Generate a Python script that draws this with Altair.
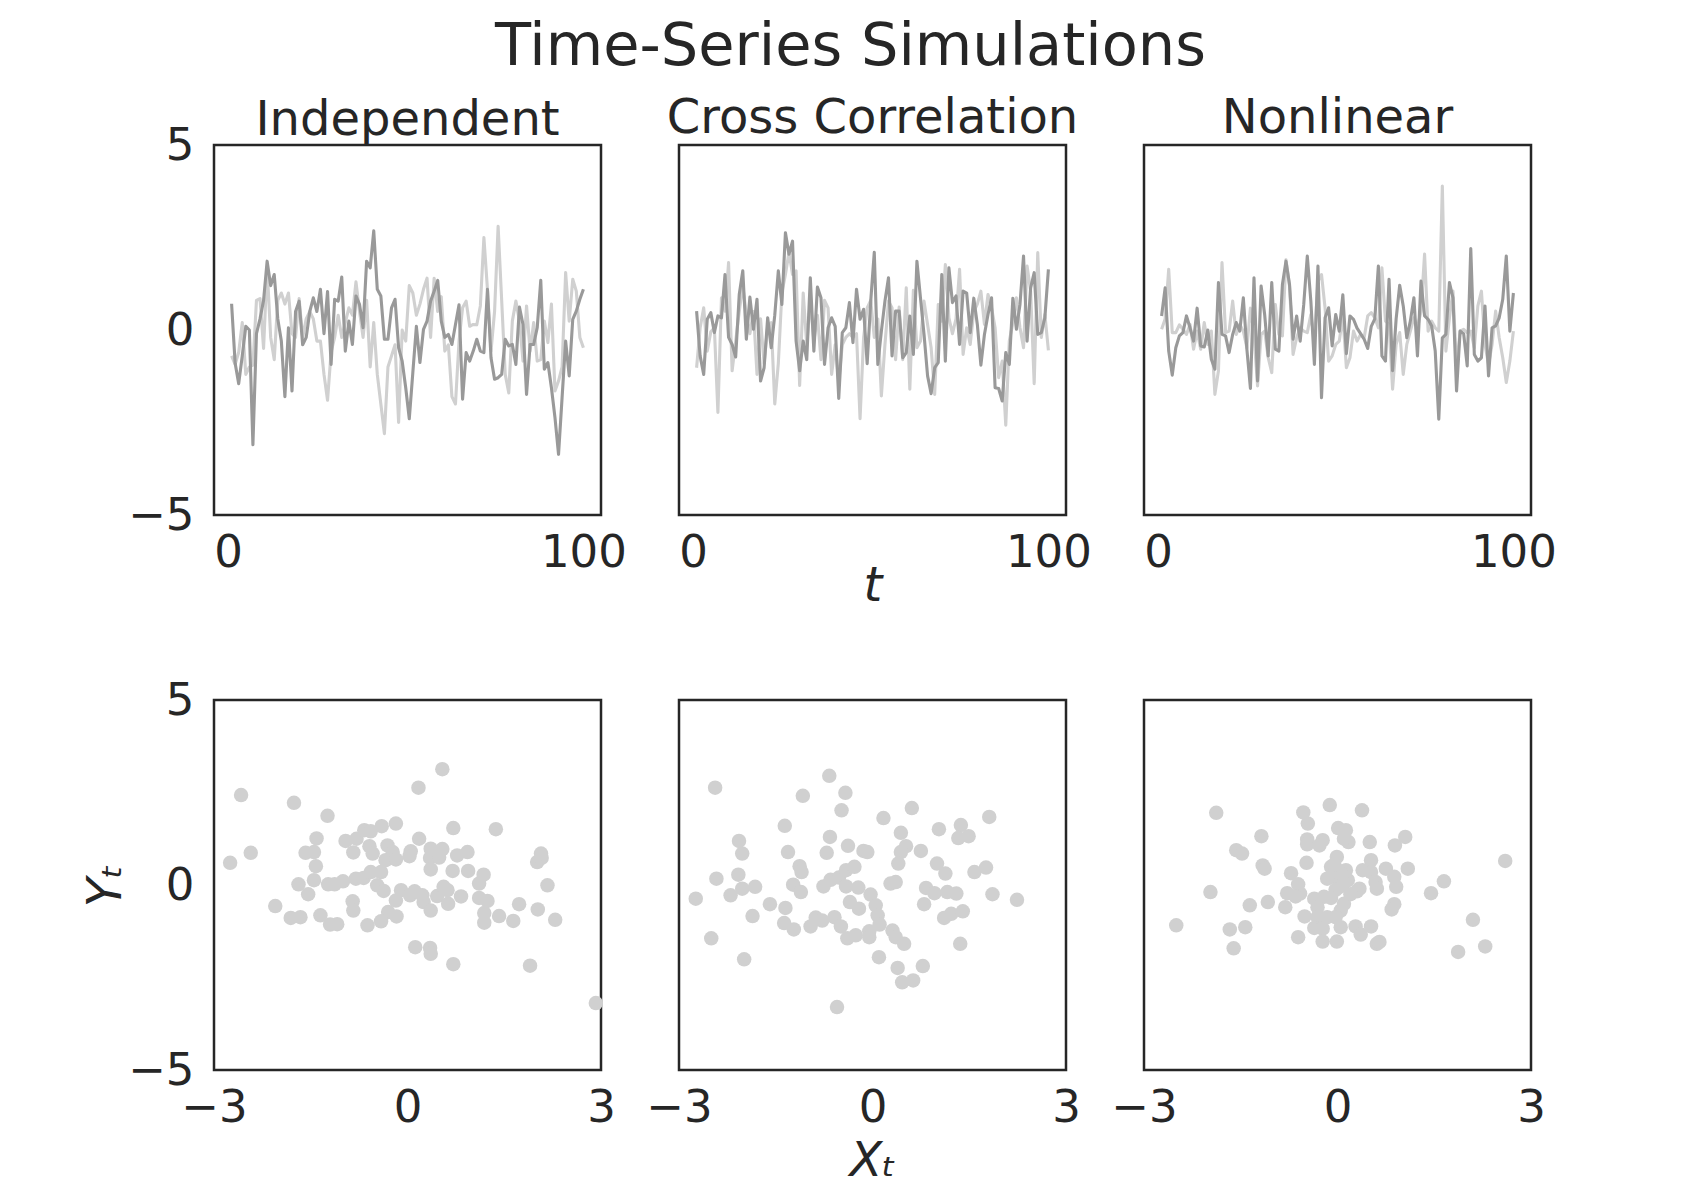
import altair as alt
import pandas as pd

T = list(range(1, 101))

IND_X = [0.71, -0.9, -1.45, -0.7, 0.1, 0.0, -3.1, -0.1, 0.3, 0.8,
         1.86, 1.2, 1.5, 0.3, -0.3, -1.8, 0.06, -1.65, 0.5, 0.78,
         -0.4, -0.2, 0.5, 0.87, 0.5, 1.1, -0.1, 1.04, -0.93, 0.83,
         0.78, 1.43, -0.57, 0.24, -0.39, 0.92, 0.69, 0.06, 1.86, 1.68,
         2.68, 1.1, 0.92, -0.25, -0.25, 0.6, 0.83, -0.48, -0.84, -1.56,
         -2.4, -1.15, 0.1, -0.88, 0.02, 0.24, 0.78, 1.05, 1.34, 0.24,
         -0.2, -0.12, -0.39, 0.15, 0.68, -1.87, -0.61, -0.84, -0.57, -0.25,
         -0.57, -0.61, 1.1, -0.75, -1.33, -1.29, -1.2, -0.25, -0.43, -0.39,
         -0.93, 0.62, 0.15, -1.74, -0.39, -0.39, 0.06, 1.34, -1.06, -0.88,
         -1.56, -2.37, -3.36, -1.83, -0.3, -1.24, 0.29, 0.51, 0.83, 1.1]
IND_Y = [-0.7, -0.93, -0.6, 0.2, -1.2, -1.0, -0.95, 0.8, 0.85, -0.5,
         1.7, -0.2, -0.8, 0.8, 1.0, 0.7, 1.0, -0.1, -0.2, 0.85,
         -0.2, 0.3, 0.5, 0.3, -0.3, -0.3, -1.2, -1.9, -0.6, -0.2,
         0.4, -0.2, 0.2, 0.6, 0.4, 1.3, 0.5, -0.2, 0.8, -1.0,
         0.2, -1.2, -2.0, -2.8, -1.0, -0.7, -0.4, -2.5, 0.0, -0.3,
         1.2, 1.0, 0.4, 0.7, 1.1, 1.4, -0.2, 1.4, 0.5, 0.9,
         -0.57, -0.4, -1.8, -2.0, -0.3, 0.6, 0.78, 0.1, 0.15, 0.14,
         0.65, 2.5, 1.1, -0.57, 0.5, 2.8, 0.8, -1.2, -1.7, 0.24,
         0.78, 0.24, -0.84, 0.65, -0.57, 0.2, -0.84, -0.8, 0.24, -0.34,
         0.7, -1.65, -1.38, -1.0, 1.55, 0.24, 1.37, 1.05, -0.2, -0.48]

CC_X = [0.51, -0.7, -1.2, 0.29, 0.47, -0.07, 0.38, 0.33, 1.5, -0.2,
        -0.39, -0.73, 0.96, 1.6, -0.25, 0.89, 0.02, 0.83, -1.38, -1.02,
        0.33, -0.48, 0.4, 1.6, 0.69, 2.63, 2.05, 2.4, -0.3, -1.1,
        -0.3, -0.8, 1.41, -0.57, 1.16, 0.87, -0.93, 0.06, 0.33, 0.1,
        -1.85, -0.07, 0.06, 0.74, -0.34, 1.1, 0.29, 0.56, -0.91, 0.78,
        2.1, -0.93, -0.03, 0.78, 1.41, -0.7, 0.51, 0.51, -0.75, -0.61,
        0.38, -0.66, 1.86, 0.87, -0.12, -1.24, -1.72, -1.02, -0.88, 1.5,
        -0.84, 1.68, 0.74, 0.92, -0.39, 1.05, 1.0, -0.07, 0.86, 0.15,
        -0.95, -0.12, 0.42, 0.87, -1.56, -1.58, -1.92, -0.61, -0.93, 0.86,
        0.02, 0.69, 2.0, -0.3, 1.14, 1.55, -0.12, -0.07, 0.33, 1.64]
CC_Y = [-1.02, 0.06, 0.6, -0.57, -0.05, 0.06, -2.23, 0.87, 0.51, 1.82,
        -1.1, -0.3, 0.5, 1.2, 0.4, -0.1, 0.5, -1.2, 0.3, -0.9,
        0.1, 0.2, -2.0, -0.9, 1.0, 1.5, 2.1, 1.5, 1.6, -1.5,
        1.0, -0.4, 0.8, -0.3, 0.4, -0.8, 0.8, 0.6, -1.2, -0.4,
        -1.4, -0.4, -0.2, -0.1, -0.2, -0.1, -2.4, -0.2, 0.6, 0.8,
        -0.2, 0.3, -1.78, -0.4, 0.78, 0.6, -0.8, 0.62, -0.8, 1.14,
        -1.6, 1.07, -0.48, -0.3, 0.78, 0.15, -0.48, -1.74, 0.69, 0.24,
        1.77, 0.33, -0.1, 0.3, 1.64, -0.66, 0.06, -0.39, 0.5, 0.7,
        1.05, 0.15, 0.96, 0.6, 0.06, -1.29, -0.84, -2.57, -0.3, 0.2,
        0.87, 0.06, -0.48, 1.73, 1.05, -1.45, 2.09, -0.2, 0.42, -0.55]

NL_X = [0.38, 1.14, -0.57, -1.22, -0.48, -0.16, -0.07, 0.38, 0.06, -0.3,
        0.59, -0.43, -0.46, 0.0, -0.79, -1.06, 1.28, -0.12, -0.16, -0.61,
        -0.12, 0.2, -0.03, 0.87, -0.52, -1.58, 1.41, -1.38, 1.19, 0.42,
        -0.7, 1.28, -0.52, -0.57, 1.23, 1.86, 1.23, -0.25, 0.38, -0.3,
        0.69, 2.0, 0.78, -0.93, 1.73, -1.83, 0.33, 0.6, -0.43, 0.42,
        -0.03, 0.95, -0.64, 0.38, 0.29, 0.05, -0.1, -0.25, -0.5, 0.1,
        0.3, 1.73, -0.7, -0.84, 1.37, -1.1, 0.3, 1.21, 0.65, -0.21,
        0.24, 0.87, -0.7, 1.32, 0.38, 0.29, 0.11, -0.57, -2.41, -0.21,
        -0.12, 1.28, 0.87, -1.65, -0.03, -0.1, -0.97, 2.2, -0.66, -0.84,
        -0.75, 0.65, -1.24, 0.06, 0.11, 0.33, 0.83, 2.0, -0.03, 1.0]
NL_Y = [0.02, 0.3, 1.64, -0.07, -0.07, 0.14, 0.02, -0.12, 0.15, -0.52,
        -0.03, -0.52, 0.2, -0.39, -0.03, -1.74, -1.1, 1.82, -0.07, -0.03,
        0.78, -0.12, 0.15, -0.03, -0.48, 0.59, -0.12, -1.51, -0.12, -0.03,
        -0.75, -1.15, 0.69, -0.12, -0.16, 1.9, 1.19, -0.66, -0.21, 0.06,
        -0.03, -0.07, 0.42, -0.3, 1.32, 1.5, 0.6, -0.84, -0.7, -0.39,
        -0.3, 0.4, -1.02, -0.75, -0.03, -0.3, -0.12, -0.21, 0.38, 0.47,
        0.33, 0.06, 1.68, 0.24, 0.15, -1.6, -0.39, -0.07, -1.2, -0.39,
        -0.03, 0.33, 0.06, 0.51, 2.05, -0.03, 0.24, 0.06, -0.03, 3.89,
        -0.57, 0.33, 1.05, -1.02, -0.03, 0.02, -0.07, -0.03, -0.48, 0.65,
        1.05, -0.39, -0.93, -0.39, 0.51, -0.21, -0.75, -1.42, -0.84, -0.03]

S1_X = [-2.58, -2.75, -2.43, -1.76, -1.24, -2.05, -1.81, -1.66, -1.69, -1.54,
        -1.58, -1.45, -1.42, -1.41, -1.45, -1.35, -1.20, -1.09, -1.23, -1.13,
        -1.00, -0.96, -0.84, -0.85, -0.84, -0.80, -0.68, -0.79, -0.67, -0.57,
        -0.59, -0.54, -0.57, -0.41, -0.40, -0.18, -0.47, -0.37, -0.31, -0.23,
        -0.30, -0.41, -0.62, -0.17, -0.34, -0.18, -0.10, -0.18, 0.04, 0.05,
        0.03, 0.18, 0.17, 0.54, 0.11, 0.23, 0.25, 0.36, 0.36, 0.35,
        0.54, 0.49, 0.36, 0.46, 0.56, 0.62, 0.63, 0.70, 0.83, 0.77,
        0.93, 0.94, 0.71, 1.18, 1.11, 1.11, 1.24, 1.19, 1.19, 1.42,
        1.37, 1.64, 1.73, 2.02, 2.01, 2.08, 2.07, 2.17, 2.29, 0.12,
        0.35, 0.36, 0.71, 1.90, 2.92]
S1_Y = [2.43, 0.60, 0.87, 2.22, 1.87, -0.57, -0.89, -0.87, 0.02, -0.25,
        0.87, 0.89, 0.51, 1.26, 0.13, -0.82, -1.07, -1.06, 0.02, 0.02,
        0.10, 1.19, 0.88, -0.44, -0.69, 0.17, 0.19, 1.25, 1.48, 1.45,
        1.05, 0.85, 0.35, 0.35, 1.59, 1.66, -0.01, -0.16, 1.07, 0.89,
        -0.73, -0.98, -1.09, -0.85, 0.67, 0.69, -0.14, -0.42, -0.28, 0.91,
        0.78, 1.25, 2.63, 3.13, -0.17, -0.28, -0.46, -0.69, 0.98, 0.73,
        0.97, 0.74, 0.42, -0.30, -0.05, -0.14, -0.51, 0.38, -0.31, 0.80,
        0.89, 0.38, 1.54, 0.28, 0.04, -0.35, -0.43, -0.76, -1.02, -0.84,
        1.51, -0.97, -0.52, -0.66, 0.62, 0.73, 0.85, -0.01, -0.94, -1.68,
        -1.70, -1.86, -2.14, -2.18, -3.19]

S2_X = [-2.44, -2.74, -2.42, -2.07, -2.02, -2.08, -2.20, -2.02, -1.82, -2.50,
        -1.99, -1.86, -1.59, -1.36, -1.31, -1.13, -1.10, -1.23, -1.11, -1.35,
        -1.37, -1.22, -0.96, -0.88, -0.78, -0.59, -0.49, -0.39, -0.26, -0.76,
        -0.65, -0.52, -0.41, -0.28, -0.41, -0.22, -1.08, -0.67, -0.42, -0.48,
        -0.66, -0.71, -0.38, -0.14, -0.08, -0.35, -0.21, -0.03, 0.05, 0.08,
        0.11, -0.05, -0.05, 0.17, 0.61, 0.44, 0.52, 0.44, 0.40, 0.28,
        0.36, 0.75, 0.31, 0.36, 0.49, 0.10, 0.39, 0.78, 0.46, 0.63,
        -0.55, 1.03, 1.37, 1.33, 1.49, 1.81, 1.00, 1.13, 0.83, 0.96,
        1.16, 1.30, 0.80, 1.11, 1.22, 1.40, 1.36, 1.58, 1.76, 1.86,
        2.24]
S2_Y = [2.63, -0.37, 0.17, 1.19, 0.85, 0.28, -0.28, -0.10, -0.05, -1.44,
        -2.01, -0.84, -0.52, 1.60, 0.89, 0.51, 0.35, 0.01, -0.19, -0.62,
        -1.03, -1.20, -1.12, -0.88, -0.96, -0.87, -1.12, -1.44, -1.36, -0.04,
        0.14, 0.20, 0.40, 0.49, -0.04, -0.07, 2.41, 2.95, 2.49, 2.02,
        1.30, 0.87, 1.06, 0.92, 0.89, -0.46, -0.64, -0.26, -0.55, -0.82,
        -1.07, -1.25, -1.41, 1.81, 2.08, 1.41, 1.05, 0.89, 0.58, 0.04,
        0.08, 0.92, -1.23, -1.41, -1.59, -1.95, -2.24, -2.19, -2.63, -2.58,
        -3.30, 1.51, 1.62, 1.27, 1.32, 1.84, 0.58, 0.31, -0.08, -0.22,
        -0.19, -0.23, -0.52, -0.89, -0.78, -0.71, -1.59, 0.35, 0.47, -0.25,
        -0.40]

S3_X = [-1.88, -2.50, -1.97, -1.67, -1.43, -1.61, -1.57, -1.48, -1.18, -1.16,
        -1.13, -1.36, -1.08, -0.81, -0.72, -0.61, -0.78, -0.58, -0.65, -0.51,
        -0.61, -0.53, -0.46, -0.47, -0.47, -0.23, -0.28, -0.48, -0.12, 0.01,
        0.13, 0.17, 0.10, 0.38, 0.50, -0.01, -0.10, 0.00, 0.13, -0.16,
        0.00, 0.16, 0.03, -0.03, 0.52, 0.39, 0.52, 0.75, 0.88, 0.59,
        0.61, 0.34, 0.30, 0.91, 1.05, 0.89, 1.09, 0.88, 0.84, -0.36,
        -0.21, -0.31, 0.10, 0.05, -0.31, -0.16, -0.03, -0.36, -0.23, 0.05,
        0.28, 0.52, 0.36, -0.23, -0.01, 0.61, 0.65, 1.45, 1.65, 2.10,
        1.87, 2.29, 2.60, 0.05, -0.05, 0.10, -0.10, 0.20]
S3_Y = [1.95, -1.09, -0.19, -1.20, -1.14, -1.71, 0.94, 0.85, 1.32, 0.53,
        0.44, -0.55, -0.46, -0.60, 0.32, 0.02, -0.22, -0.23, -0.31, -0.85,
        -1.41, 1.96, 1.66, 1.23, 1.10, 1.21, 1.07, 0.60, 2.16, 1.54,
        1.48, 1.16, 1.25, 2.02, 1.16, 0.76, 0.49, 0.40, 0.40, 0.17,
        0.17, 0.13, -0.05, -0.13, 0.67, 0.40, 0.35, 0.44, 0.22, 0.08,
        -0.10, -0.10, -0.17, -0.05, 1.30, 1.07, 0.44, -0.52, -0.66, -0.37,
        -0.32, -0.60, -0.51, -0.69, -0.87, -0.87, -0.87, -1.16, -1.18, -1.14,
        -1.12, -1.12, -1.34, -1.53, -1.53, -1.59, -1.54, -0.22, 0.10, -0.94,
        -1.81, -1.66, 0.65, 0.30, 0.55, 0.05, -0.35, -0.25]

TITLES = ["Independent", "Cross Correlation", "Nonlinear"]
TITLE_OFFSETS = [-60, -36, -36]
DARK = "#999999"
LIGHT = "#d0d0d0"
TXT = "#262626"
FONT = "DejaVu Sans"
W, H = 387, 370


def ts_panel(title, toff, xs, ys, first, xtitle):
    df = pd.DataFrame({"t": T, "xv": xs, "yv": ys})
    xenc = alt.X("t:Q", scale=alt.Scale(domain=[-3.95, 104.95], nice=False, zero=False),
                 axis=alt.Axis(values=[0, 100], title=xtitle, labelFlush=False, titlePadding=-13))
    ysc = alt.Scale(domain=[-5, 5], nice=False, zero=False)
    if first:
        yax = alt.Axis(values=[-5, 0, 5], title="", labelFlush=False)
    else:
        yax = None
    light = alt.Chart(df).mark_line(color=LIGHT, strokeWidth=3.1, strokeJoin="round").encode(
        x=xenc, y=alt.Y("yv:Q", scale=ysc, axis=yax))
    dark = alt.Chart(df).mark_line(color=DARK, strokeWidth=3.1, strokeJoin="round").encode(
        x=xenc, y=alt.Y("xv:Q", scale=ysc, axis=yax))
    return alt.layer(light, dark).properties(
        width=W, height=H,
        title=alt.TitleParams(title, fontSize=48, font=FONT, color=TXT, fontWeight="normal",
                              baseline="alphabetic", offset=toff, anchor="middle", frame="group"))


def sc_panel(xs, ys, first, xtitle):
    df = pd.DataFrame({"xv": xs, "yv": ys})
    if first:
        yax = alt.Axis(values=[-5, 0, 5], title="Yₜ", labelFlush=False, titlePadding=-3)
    else:
        yax = None
    return alt.Chart(df).mark_circle(size=210, color=LIGHT, opacity=1).encode(
        x=alt.X("xv:Q", scale=alt.Scale(domain=[-3, 3], nice=False, zero=False),
                axis=alt.Axis(values=[-3, 0, 3], title=xtitle, labelFlush=False, titlePadding=7)),
        y=alt.Y("yv:Q", scale=alt.Scale(domain=[-5, 5], nice=False, zero=False), axis=yax),
    ).properties(width=W, height=H)


chart = alt.concat(
    ts_panel(TITLES[0], TITLE_OFFSETS[0], IND_X, IND_Y, True, ""),
    ts_panel(TITLES[1], TITLE_OFFSETS[1], CC_X, CC_Y, False, "t"),
    ts_panel(TITLES[2], TITLE_OFFSETS[2], NL_X, NL_Y, False, ""),
    sc_panel(S1_X, S1_Y, True, ""),
    sc_panel(S2_X, S2_Y, False, "Xₜ"),
    sc_panel(S3_X, S3_Y, False, ""),
    columns=3, spacing={"row": 185, "column": 78}, bounds="flush",
).properties(
    title=alt.TitleParams("Time-Series Simulations", fontSize=59, font=FONT, color=TXT,
                          fontWeight="normal", anchor="middle", offset=17, dx=31),
    padding={"left": 73, "top": 9, "right": 10, "bottom": 10},
    background="white",
).configure_axis(
    labelFont=FONT, labelFontSize=45, labelColor=TXT, tickSize=0, domain=False, grid=False,
    labelPadding=15, titleFont=FONT, titleFontSize=48, titleFontStyle="italic",
    titleFontWeight="normal", titleColor=TXT,
).configure_axisY(labelPadding=20).configure_view(
    stroke=TXT, strokeWidth=2.5
)

chart.save("out.html", embed_options={"renderer": "svg", "actions": False})
